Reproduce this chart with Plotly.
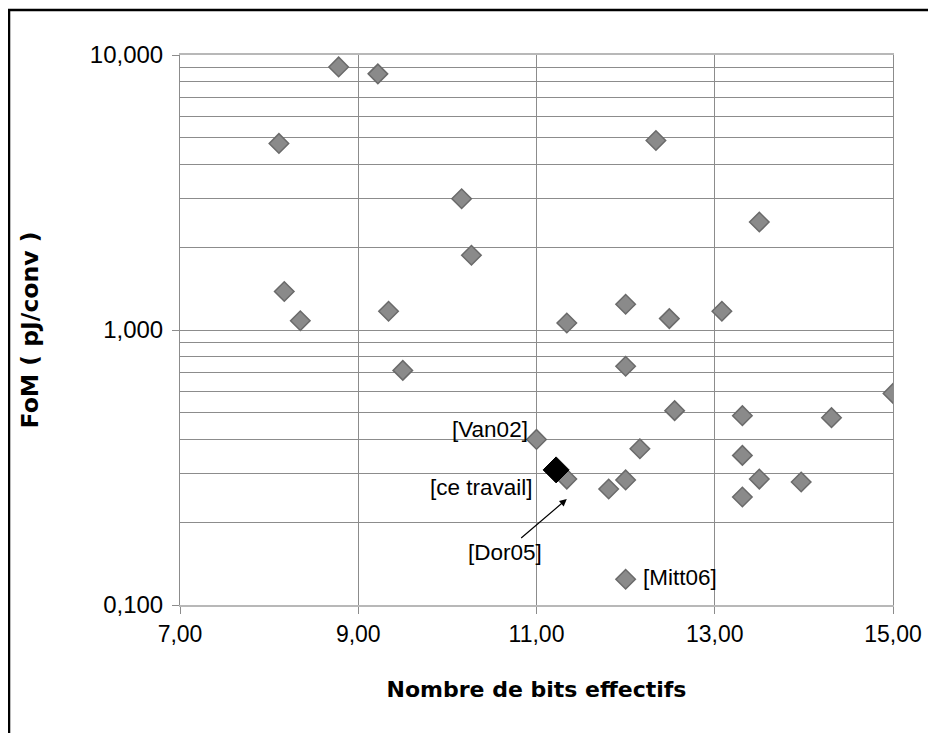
import math

import plotly.graph_objects as go

# Effective number of bits vs figure of merit (pJ/conv)
enob = [8.78, 9.22, 8.11, 12.34, 10.16, 13.50, 10.27, 8.17, 8.35, 9.34,
        11.34, 12.00, 12.49, 13.08, 9.50, 12.00, 12.55, 13.31, 15.00, 14.31,
        11.00, 12.16, 13.31, 11.34, 11.81, 12.00, 13.50, 13.97, 13.31, 12.00]
fom = [9.05, 8.54, 4.77, 4.89, 3.00, 2.47, 1.87, 1.38, 1.08, 1.17,
       1.06, 1.24, 1.10, 1.17, 0.713, 0.738, 0.509, 0.488, 0.588, 0.48,
       0.40, 0.37, 0.35, 0.287, 0.264, 0.285, 0.287, 0.28, 0.247, 0.124]

# this work
this_enob = [11.22]
this_fom = [0.31]

x_ticks = [7, 9, 11, 13, 15]
x_ticktext = ["7,00", "9,00", "11,00", "13,00", "15,00"]
y_ticks = [0.1, 1, 10]
y_ticktext = ["0,100", "1,000", "10,000"]

FONT = "Liberation Sans, Arial, sans-serif"
TITLE_FONT = "DejaVu Sans, sans-serif"

fig = go.Figure()

fig.add_trace(
    go.Scatter(
        x=enob,
        y=fom,
        mode="markers",
        marker=dict(symbol="diamond", size=15, color="#8a8a8a",
                    line=dict(color="#6a6a6a", width=1.5)),
        showlegend=False,
    )
)
fig.add_trace(
    go.Scatter(
        x=this_enob,
        y=this_fom,
        mode="markers",
        marker=dict(symbol="diamond", size=20, color="black",
                    line=dict(color="black", width=1)),
        showlegend=False,
    )
)

# labels next to some points (annotation y is log10 on a log axis)
ann_font = dict(family=FONT, size=22.5, color="black")
fig.add_annotation(x=enob[20], y=math.log10(fom[20]), text="[Van02]", showarrow=False,
                   xanchor="right", yanchor="middle", xshift=-7, yshift=10,
                   font=ann_font)
fig.add_annotation(x=this_enob[0], y=math.log10(this_fom[0]), text="[ce travail]",
                   showarrow=False, xanchor="right", yanchor="middle",
                   xshift=-21, yshift=-18, font=ann_font)
fig.add_annotation(x=enob[23], y=math.log10(fom[23]), text="[Dor05]", showarrow=True,
                   arrowhead=2, arrowsize=1.2, arrowwidth=1.2, arrowcolor="black",
                   ax=-62, ay=53, yshift=-20, font=ann_font)
fig.add_annotation(x=enob[29], y=math.log10(fom[29]), text="[Mitt06]", showarrow=False,
                   xanchor="left", yanchor="middle", xshift=15, yshift=2,
                   font=ann_font)

# outer frame (open on the right and bottom)
fig.add_shape(type="rect", xref="paper", yref="paper",
              x0=-0.2398, x1=1.3, y0=-0.5, y1=1.0818,
              line=dict(color="black", width=2.5), fillcolor="rgba(0,0,0,0)")

fig.update_xaxes(
    range=[7, 15],
    tickvals=x_ticks,
    ticktext=x_ticktext,
    showgrid=True,
    gridcolor="#8c8c8c",
    gridwidth=1,
    showline=True,
    linecolor="#b8b8b8",
    linewidth=2,
    mirror=True,
    ticks="outside",
    ticklen=7,
    tickcolor="#8c8c8c",
    zeroline=False,
    tickfont=dict(family=FONT, size=23, color="black"),
    title=dict(text="<b>Nombre de bits effectifs</b>", standoff=36,
               font=dict(family=TITLE_FONT, size=22, color="black")),
)
fig.update_yaxes(
    type="log",
    range=[-1, 1],
    tickvals=y_ticks,
    ticktext=y_ticktext,
    showgrid=True,
    gridcolor="#8c8c8c",
    gridwidth=1,
    minor=dict(tickvals=[m * d for d in (0.1, 1) for m in range(2, 10)],
               showgrid=True, gridcolor="#8c8c8c", gridwidth=1, ticks=""),
    showline=True,
    linecolor="#8c8c8c",
    linewidth=1,
    mirror=True,
    ticks="outside",
    ticklen=7,
    tickcolor="#8c8c8c",
    ticklabelstandoff=4,
    tickfont=dict(family=FONT, size=24, color="black"),
    title=dict(text="<b>FoM ( pJ/conv )</b>", standoff=44,
               font=dict(family=TITLE_FONT, size=23.5, color="black")),
)

# page body has an 8px margin, so the figure is sized to fit the window
fig.update_layout(
    width=928,
    height=725,
    margin=dict(l=172, r=43, t=47, b=128, autoexpand=False),
    plot_bgcolor="white",
    paper_bgcolor="white",
    showlegend=False,
)

fig.write_html("out.html")
